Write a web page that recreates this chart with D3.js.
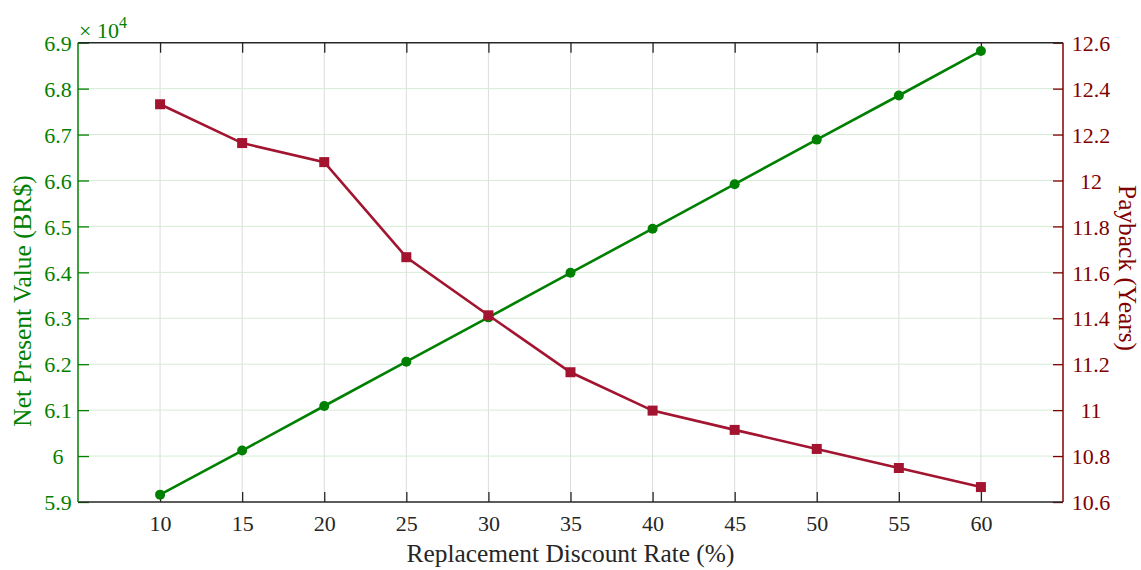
<!DOCTYPE html>
<html><head><meta charset="utf-8">
<script src="https://cdn.jsdelivr.net/npm/d3@7"></script>
<style>body{margin:0;background:#fff}svg{display:block}svg text{font-family:"Liberation Serif","Times New Roman",serif !important}</style>
</head><body><svg id="c" width="1141" height="570"></svg>
<script>
const rates = [10, 15, 20, 25, 30, 35, 40, 45, 50, 55, 60];
const npv = [59160, 60120, 61090, 62055, 63020, 63990, 64950, 65920, 66890, 67850, 68820];
const payback = [12.332, 12.163, 12.08, 11.666, 11.413, 11.165, 10.998, 10.914, 10.831, 10.748, 10.665];
const xTicks = [10, 15, 20, 25, 30, 35, 40, 45, 50, 55, 60];
const leftTicks = [5.9, 6, 6.1, 6.2, 6.3, 6.4, 6.5, 6.6, 6.7, 6.8, 6.9];
const rightTicks = [10.6, 10.8, 11, 11.2, 11.4, 11.6, 11.8, 12, 12.2, 12.4, 12.6];

const L = 78, R = 1063, T = 42.7, B = 502;
const GREEN = "#008000", LINE_RED = "#a2142f", AX_RED = "#800000", DARK = "#262626";
const FONT = '"Liberation Serif","Times New Roman",serif';
const svg = d3.select("#c");
const x = d3.scaleLinear().domain([5, 65]).range([L, R]);
const yL = d3.scaleLinear().domain([5.9, 6.9]).range([B, T]);
const yR = d3.scaleLinear().domain([10.6, 12.6]).range([B, T]);

// grids
svg.append("g").selectAll("line").data(xTicks).join("line")
  .attr("x1", d => x(d)).attr("x2", d => x(d)).attr("y1", T).attr("y2", B)
  .attr("stroke", "#dcdcdc").attr("stroke-width", 1);
svg.append("g").selectAll("line").data(leftTicks.slice(1, -1)).join("line")
  .attr("x1", L).attr("x2", R).attr("y1", d => yL(d)).attr("y2", d => yL(d))
  .attr("stroke", "#d6ecd6").attr("stroke-width", 1);

function styleText(sel, color, size) {
  sel.attr("fill", color).style("font-family", FONT).style("font-size", size + "px");
}

// bottom axis
const bx = d3.axisBottom(x).tickValues(xTicks).tickSize(-10).tickPadding(13).tickFormat(d3.format("d"));
const gB = svg.append("g").attr("transform", `translate(0,${B})`).call(bx);
gB.attr("font-family", null).attr("font-size", null);
gB.select(".domain").remove();
gB.selectAll(".tick line").attr("stroke", DARK).attr("stroke-width", 1.3);
styleText(gB.selectAll(".tick text"), DARK, 22);
// top axis ticks
const tx = d3.axisTop(x).tickValues(xTicks).tickSize(-10).tickFormat("");
const gT = svg.append("g").attr("transform", `translate(0,${T})`).call(tx);
gT.select(".domain").remove();
gT.selectAll(".tick line").attr("stroke", DARK).attr("stroke-width", 1.3);

// left axis
const lx = d3.axisLeft(yL).tickValues(leftTicks).tickSize(-11).tickFormat(d => String(+d.toFixed(1)));
const gL = svg.append("g").attr("transform", `translate(${L},0)`).call(lx);
gL.attr("font-family", null).attr("font-size", null);
gL.select(".domain").remove();
gL.selectAll(".tick line").attr("stroke", GREEN).attr("stroke-width", 1.3);
styleText(gL.selectAll(".tick text"), GREEN, 22);
gL.selectAll(".tick text").attr("text-anchor", "middle").attr("x", -20).attr("dy", "0.35em");

// right axis
const rx = d3.axisRight(yR).tickValues(rightTicks).tickSize(-10).tickFormat(d => String(+d.toFixed(1)));
const gR = svg.append("g").attr("transform", `translate(${R},0)`).call(rx);
gR.attr("font-family", null).attr("font-size", null);
gR.select(".domain").remove();
gR.selectAll(".tick line").attr("stroke", AX_RED).attr("stroke-width", 1.3);
styleText(gR.selectAll(".tick text"), AX_RED, 22);
gR.selectAll(".tick text").attr("text-anchor", "middle").attr("x", 28).attr("dy", "0.35em");

// frame lines
svg.append("line").attr("x1", L).attr("x2", R).attr("y1", B).attr("y2", B).attr("stroke", DARK).attr("stroke-width", 1.5);
svg.append("line").attr("x1", L).attr("x2", R).attr("y1", T).attr("y2", T).attr("stroke", DARK).attr("stroke-width", 1.5);
svg.append("line").attr("x1", L).attr("x2", L).attr("y1", T).attr("y2", B).attr("stroke", GREEN).attr("stroke-width", 1.5);
svg.append("line").attr("x1", R).attr("x2", R).attr("y1", T).attr("y2", B).attr("stroke", AX_RED).attr("stroke-width", 1.5);

// lines
const gLine = d3.line().x((d, i) => x(rates[i])).y(d => yL(d / 1e4));
svg.append("path").datum(npv).attr("d", gLine).attr("fill", "none").attr("stroke", GREEN).attr("stroke-width", 2.6);
svg.append("g").selectAll("circle").data(npv).join("circle")
  .attr("cx", (d, i) => x(rates[i])).attr("cy", d => yL(d / 1e4)).attr("r", 5).attr("fill", GREEN);

const rLine = d3.line().x((d, i) => x(rates[i])).y(d => yR(d));
svg.append("path").datum(payback).attr("d", rLine).attr("fill", "none").attr("stroke", LINE_RED).attr("stroke-width", 2.6);
svg.append("g").selectAll("rect").data(payback).join("rect")
  .attr("x", (d, i) => x(rates[i]) - 5).attr("y", d => yR(d) - 5).attr("width", 10).attr("height", 10).attr("fill", LINE_RED);

// exponent label
const ex = svg.append("text").attr("x", 79).attr("y", 38);
styleText(ex, GREEN, 22);
ex.append("tspan").text("× 10");
ex.append("tspan").attr("dy", -10).style("font-size", "16px").text("4");

// axis labels
styleText(svg.append("text").attr("x", 570.5).attr("y", 562).attr("text-anchor", "middle")
  .text("Replacement Discount Rate (%)"), DARK, 25.4);
styleText(svg.append("text").attr("transform", `translate(31,301) rotate(-90)`).attr("text-anchor", "middle")
  .text("Net Present Value (BR$)"), GREEN, 25.4);
styleText(svg.append("text").attr("transform", `translate(1119,268) rotate(90)`).attr("text-anchor", "middle")
  .text("Payback (Years)"), AX_RED, 25.4);
</script></body></html>
